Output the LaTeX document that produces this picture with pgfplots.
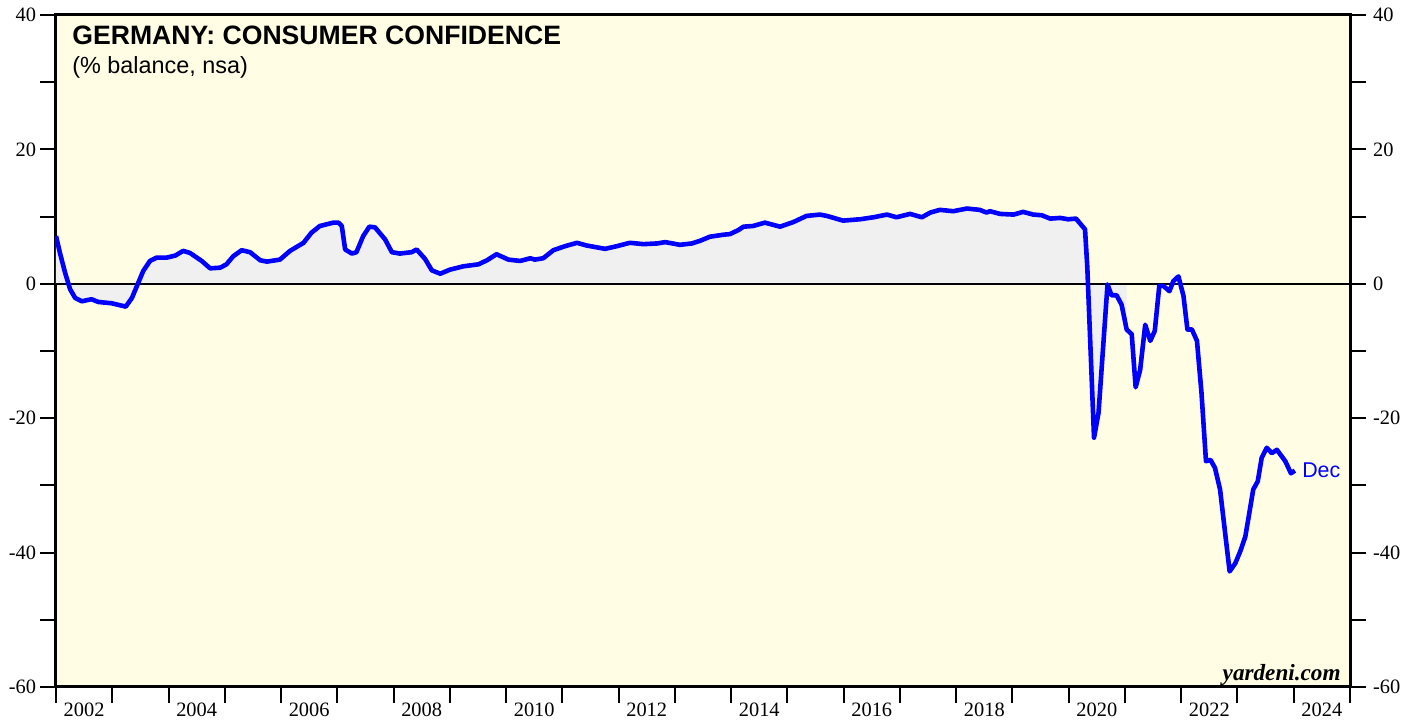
\documentclass[border=0pt]{standalone}
\usepackage{fontspec}
\setmainfont{Liberation Serif}
\newfontfamily\arial{Liberation Sans}
\usepackage{pgfplots}
\usepackage{pgfplotstable}
\pgfplotsset{compat=1.18}
\definecolor{bgy}{RGB}{255,254,228}
\definecolor{fillg}{RGB}{240,240,240}
\pgfplotstableread{
x y
2002.00 7.1
2002.07 4.6
2002.16 1.7
2002.25 -0.8
2002.34 -2.1
2002.46 -2.6
2002.63 -2.3
2002.75 -2.7
2002.99 -2.9
2003.14 -3.2
2003.24 -3.4
2003.35 -2.1
2003.45 -0.1
2003.55 1.9
2003.67 3.4
2003.79 3.9
2003.97 3.9
2004.12 4.2
2004.26 4.9
2004.38 4.6
2004.59 3.4
2004.74 2.3
2004.92 2.4
2005.03 2.9
2005.15 4.1
2005.30 5.0
2005.45 4.7
2005.63 3.5
2005.75 3.3
2005.98 3.6
2006.16 4.9
2006.40 6.1
2006.54 7.6
2006.69 8.6
2006.93 9.1
2007.02 9.1
2007.08 8.6
2007.14 5.1
2007.26 4.5
2007.34 4.7
2007.46 7.1
2007.57 8.5
2007.67 8.4
2007.85 6.6
2007.97 4.7
2008.11 4.5
2008.32 4.7
2008.41 5.1
2008.56 3.7
2008.68 2.0
2008.83 1.5
2009.00 2.1
2009.24 2.6
2009.51 2.9
2009.66 3.5
2009.83 4.4
2010.04 3.6
2010.25 3.4
2010.43 3.8
2010.51 3.6
2010.66 3.8
2010.84 5.0
2011.05 5.6
2011.26 6.1
2011.43 5.7
2011.76 5.2
2011.97 5.6
2012.20 6.1
2012.44 5.9
2012.68 6.0
2012.83 6.2
2013.09 5.8
2013.30 6.0
2013.45 6.4
2013.62 7.0
2013.86 7.3
2013.98 7.4
2014.13 8.0
2014.22 8.5
2014.39 8.6
2014.60 9.1
2014.87 8.5
2015.11 9.2
2015.34 10.1
2015.58 10.3
2015.70 10.1
2015.99 9.4
2016.29 9.6
2016.53 9.9
2016.77 10.3
2016.94 9.9
2017.18 10.4
2017.39 9.9
2017.54 10.6
2017.71 11.0
2017.95 10.8
2018.19 11.2
2018.42 11.0
2018.54 10.6
2018.60 10.8
2018.78 10.4
2019.02 10.3
2019.19 10.7
2019.37 10.3
2019.52 10.2
2019.67 9.7
2019.85 9.8
2019.99 9.6
2020.13 9.7
2020.29 8.1
2020.33 2.6
2020.45 -22.9
2020.53 -19.2
2020.69 -0.1
2020.76 -1.7
2020.85 -1.7
2020.94 -3.1
2021.03 -6.8
2021.12 -7.5
2021.19 -15.4
2021.27 -12.8
2021.36 -6.1
2021.45 -8.5
2021.53 -7.0
2021.61 -0.3
2021.68 -0.3
2021.79 -1.1
2021.86 0.4
2021.95 1.1
2022.04 -1.8
2022.11 -6.8
2022.19 -6.8
2022.28 -8.5
2022.36 -16.2
2022.44 -26.4
2022.52 -26.2
2022.60 -27.4
2022.69 -30.6
2022.86 -42.8
2022.96 -41.6
2023.05 -39.8
2023.14 -37.6
2023.21 -34.1
2023.28 -30.6
2023.36 -29.4
2023.43 -25.9
2023.52 -24.4
2023.61 -25.2
2023.70 -24.7
2023.85 -26.4
2023.95 -28.2
2024.02 -27.8
}\gfk

\begin{document}
\begin{tikzpicture}
\path[use as bounding box] (-28pt,-17pt) rectangle (680.5pt,343.5pt);
\begin{axis}[
  at={(0,0)}, anchor=south west,
  scale only axis, width=647pt, height=336pt,
  xmin=2002, xmax=2025, ymin=-60, ymax=40,
  axis background/.style={fill=bgy},
  axis line style={line width=1.5pt},
  tick align=outside,
  major tick length=8pt, minor tick length=8pt,
  tick style={black, line width=1pt},
  xtick={2002,...,2025}, xticklabels={},
  xtick pos=bottom,
  extra x ticks={2002.5,2004.5,2006.5,2008.5,2010.5,2012.5,2014.5,2016.5,2018.5,2020.5,2022.5,2024.5},
  extra x tick labels={2002,2004,2006,2008,2010,2012,2014,2016,2018,2020,2022,2024},
  extra x tick style={tick style={draw=none}},
  xticklabel style={yshift=3.5pt},
  ytick={-60,-40,...,40}, minor ytick={-50,-30,...,30},
  ytick pos=both, yticklabel pos=left,
  yticklabel style={xshift=1.5pt},
  /pgf/number format/assume math mode=true,
  ticklabel style={font=\fontsize{10.2}{12}\selectfont},
  clip=true,
]
\addplot[fill=fillg, draw=none, restrict x to domain=2002:2021.03] table {\gfk} \closedcycle;
\addplot[black, line width=0.8pt] coordinates {(2002,0) (2025,0)};
\addplot[blue, line width=2.3pt, line join=round] table {\gfk};
\node[anchor=west, text=blue, font=\arial\fontsize{10.7}{12}\selectfont, inner sep=0pt, xshift=3.5pt] at (axis cs:2024.02,-27.8) {Dec};
\node[anchor=base west, font=\arial\bfseries\fontsize{13.3}{15}\selectfont, inner sep=0pt] at ([xshift=8pt,yshift=-15pt]rel axis cs:0,1) {GERMANY: CONSUMER CONFIDENCE};
\node[anchor=base west, font=\arial\fontsize{11.7}{14}\selectfont, inner sep=0pt] at ([xshift=8pt,yshift=-29.5pt]rel axis cs:0,1) {(\% balance, nsa)};
\node[anchor=base east, font=\bfseries\itshape\fontsize{11.6}{14}\selectfont, inner sep=0pt] at ([xshift=-4.5pt,yshift=3pt]rel axis cs:1,0) {yardeni.com};
\end{axis}
\begin{axis}[
  at={(0,0)}, anchor=south west,
  scale only axis, width=647pt, height=336pt,
  xmin=2002, xmax=2025, ymin=-60, ymax=40,
  axis line style={draw=none},
  xtick=\empty,
  tick align=outside,
  major tick length=8pt,
  ytick={-60,-40,...,40},
  ytick style={draw=none},
  yticklabel pos=right,
  /pgf/number format/assume math mode=true,
  ticklabel style={font=\fontsize{10.2}{12}\selectfont},
]
\end{axis}
\end{tikzpicture}
\end{document}
